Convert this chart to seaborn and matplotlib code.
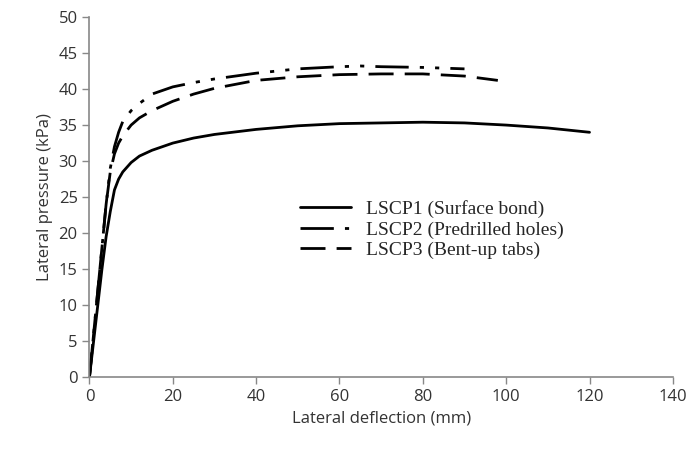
import matplotlib.pyplot as plt
import seaborn as sns
import pandas as pd

# LSCP1 (surface bond)
x1 = [0, 1, 2, 3, 4, 5, 6, 7, 8, 10, 12, 15, 20, 25, 30, 40, 50, 60, 70, 80, 90, 100, 110, 120]
y1 = [0, 5, 10, 15, 19.5, 23, 26, 27.5, 28.5, 29.8, 30.7, 31.5, 32.5, 33.2, 33.7, 34.4, 34.9, 35.2, 35.3, 35.4, 35.3, 35.0, 34.6, 34.0]

# LSCP2 (predrilled holes)
x2 = [0, 1, 2, 3, 4, 5, 6, 7, 8, 10, 12, 15, 20, 25, 30, 40, 50, 60, 65, 70, 80, 90]
y2 = [0, 6, 12, 18, 24, 29, 32, 34, 35.5, 37, 38, 39.3, 40.3, 40.9, 41.4, 42.2, 42.8, 43.1, 43.2, 43.1, 43.0, 42.8]

# LSCP3 (bent-up tabs)
x3 = [0, 1, 2, 3, 4, 5, 6, 7, 8, 10, 12, 15, 20, 25, 30, 40, 50, 60, 70, 80, 90, 98]
y3 = [0, 6, 12, 18, 24, 28.5, 31, 32.5, 33.5, 35, 36, 37, 38.3, 39.3, 40.1, 41.2, 41.7, 42.0, 42.1, 42.1, 41.8, 41.2]

labels = ['LSCP1 (Surface bond)', 'LSCP2 (Predrilled holes)', 'LSCP3 (Bent-up tabs)']

df = pd.concat([
    pd.DataFrame({'x': x1, 'y': y1, 'series': labels[0]}),
    pd.DataFrame({'x': x2, 'y': y2, 'series': labels[1]}),
    pd.DataFrame({'x': x3, 'y': y3, 'series': labels[2]}),
])

sns.set_style('white')
plt.rcParams['font.family'] = ['Open Sans', 'DejaVu Sans']

fig, ax = plt.subplots(figsize=(6.88, 4.59), dpi=100)

styles = {
    labels[0]: '-',
    labels[1]: (0, (12, 4, 1.5, 4, 1.5, 4)),
    labels[2]: (0, (9, 4)),
}
for lab in labels:
    sub = df[df['series'] == lab]
    sns.lineplot(data=sub, x='x', y='y', color='black', linewidth=2,
                 linestyle=styles[lab], label=lab, ax=ax, sort=False)

ax.set_xlim(0, 140)
ax.set_ylim(0, 50)
ax.set_xticks(range(0, 141, 20))
ax.set_yticks(range(0, 51, 5))
ax.tick_params(axis='both', direction='out', length=5, width=1, colors='#888888',
               labelcolor='#333333', labelsize=12, left=True, bottom=True)
for side in ['top', 'right']:
    ax.spines[side].set_visible(False)
for side in ['left', 'bottom']:
    ax.spines[side].set_color('#888888')
    ax.spines[side].set_linewidth(1.2)

ax.set_xlabel('Lateral deflection (mm)', fontsize=12, color='#333333')
ax.set_ylabel('Lateral pressure (kPa)', fontsize=12, color='#333333')

leg = ax.legend(loc='center left', bbox_to_anchor=(0.345, 0.41), frameon=False,
                prop={'family': 'Liberation Serif', 'size': 14}, handlelength=2.6,
                labelspacing=0.15, borderpad=0, handletextpad=0.75)

plt.subplots_adjust(left=0.13, right=0.978, top=0.963, bottom=0.178)
plt.savefig('out.png', dpi=100)
plt.close()
